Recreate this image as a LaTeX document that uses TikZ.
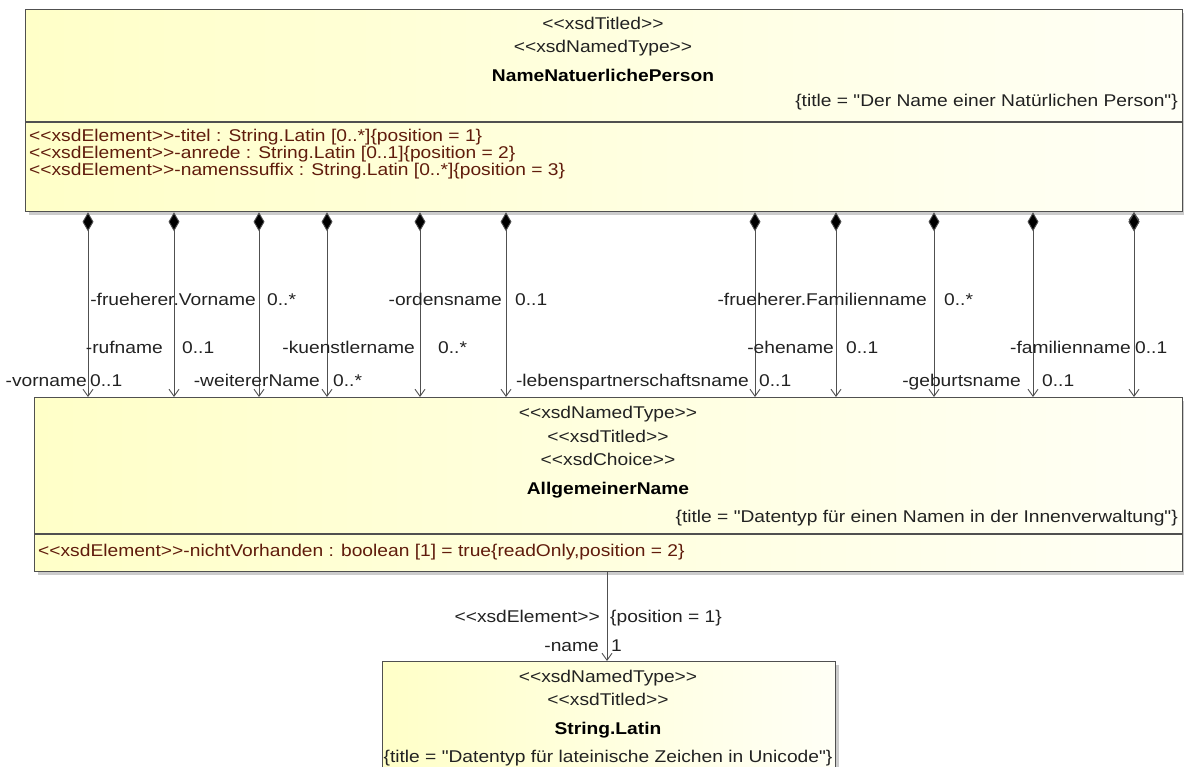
\documentclass[tikz,border=0pt]{standalone}
\usepackage{fontspec}
\newfontfamily\umlfont{Liberation Sans}[FakeStretch=1.13]
\usetikzlibrary{arrows.meta, positioning, shadows}

\definecolor{umlfill}{RGB}{255,255,200}
\definecolor{umlfillr}{RGB}{255,255,246}
\definecolor{umldraw}{RGB}{80,80,80}
\definecolor{umlattr}{RGB}{96,28,12}
\definecolor{umltext}{RGB}{34,34,34}

\newcommand{\stereo}[1]{\textless\textless#1\textgreater\textgreater}

\begin{document}
\begin{tikzpicture} [x=1pt, y=-1pt,
            font=\umlfont\fontsize{17}{17}\selectfont,
            every node/.style={inner sep=0pt, text=umltext},
            classbox/.style={draw=umldraw, line width=1.3pt,
                left color=umlfill, right color=umlfillr,
                drop shadow={shadow xshift=3pt, shadow yshift=-3pt, opacity=.4}},
            divider/.style={draw=umldraw, line width=1.3pt},
            classname/.style={anchor=base, font=\umlfont\bfseries\fontsize{17}{17}\selectfont, text=black},
            stline/.style={anchor=base},
            attr/.style={anchor=base west, text=umlattr},
            role/.style={anchor=base east},
            mult/.style={anchor=base west},
            assoc/.style={draw=umldraw, line width=0.9pt,
                {Diamond[length=19pt, width=11pt]}-{Straight Barb[length=7pt, width=10pt]}},
            elem/.style={draw=umldraw, line width=0.9pt,
                -{Straight Barb[length=7pt, width=10pt]}}]

        \useasboundingbox (0,0) rectangle (1184,767);

        % Class NameNatuerlichePerson
        \node (nnp) [classbox, anchor=north west,
            minimum width=1157pt, minimum height=202pt] at (25,9) {};
        \draw [divider] ([yshift=-113pt]nnp.north west) -- ([yshift=-113pt]nnp.north east);
        \node (nnpTitled) [stline] at (603,29.5) {\stereo{xsdTitled}};
        \node (nnpNamed) [stline] at (603,52.5) {\stereo{xsdNamedType}};
        \node (nnpName) [classname] at (603,82) {NameNatuerlichePerson};
        \node (nnpTitle) [anchor=base east] at (1178,106.5) {\{title = "Der Name einer Natürlichen Person"\}};
        \node (nnpAttr1) [attr] at (29,141.5) {\stereo{xsdElement}-titel : String.Latin [0..*]\{position = 1\}};
        \node (nnpAttr2) [attr] at (29,158.5) {\stereo{xsdElement}-anrede : String.Latin [0..1]\{position = 2\}};
        \node (nnpAttr3) [attr] at (29,175.5) {\stereo{xsdElement}-namenssuffix : String.Latin [0..*]\{position = 3\}};

        % Class AllgemeinerName
        \node (an) [classbox, anchor=north west,
            minimum width=1148pt, minimum height=174pt] at (34,397) {};
        \draw [divider] ([yshift=-137pt]an.north west) -- ([yshift=-137pt]an.north east);
        \node (anNamed) [stline] at (608,418.5) {\stereo{xsdNamedType}};
        \node (anTitled) [stline] at (608,442.5) {\stereo{xsdTitled}};
        \node (anChoice) [stline] at (608,465.5) {\stereo{xsdChoice}};
        \node (anName) [classname] at (608,494) {AllgemeinerName};
        \node (anTitle) [anchor=base east] at (1178,522.5) {\{title = "Datentyp für einen Namen in der Innenverwaltung"\}};
        \node (anAttr) [attr] at (38,556.5) {\stereo{xsdElement}-nichtVorhanden : boolean [1] = true\{readOnly,position = 2\}};

        % Class String.Latin
        \node (sl) [classbox, anchor=north west,
            minimum width=453pt, minimum height=140pt] at (382,661) {};
        \node (slNamed) [stline] at (608,682.5) {\stereo{xsdNamedType}};
        \node (slTitled) [stline] at (608,705.5) {\stereo{xsdTitled}};
        \node (slName) [classname] at (608,734) {String.Latin};
        \node (slTitle) [stline] at (608,762.5) {\{title = "Datentyp für lateinische Zeichen in Unicode"\}};

        % Connector columns
        \coordinate (xVorname) at (88,0);
        \coordinate (xRufname) at (174,0);
        \coordinate (xFrVorname) at (259,0);
        \coordinate (xWeiterer) at (327,0);
        \coordinate (xKuenstler) at (420,0);
        \coordinate (xOrden) at (506,0);
        \coordinate (xLebens) at (755,0);
        \coordinate (xEhe) at (836,0);
        \coordinate (xFrFamilie) at (934,0);
        \coordinate (xGeburt) at (1033,0);
        \coordinate (xFamilie) at (1134,0);
        \coordinate (xName) at (607,0);

        % Compositions
        \path [assoc]
            (xVorname |- nnp.south)   edge (xVorname |- an.north)
            (xRufname |- nnp.south)   edge (xRufname |- an.north)
            (xFrVorname |- nnp.south) edge (xFrVorname |- an.north)
            (xWeiterer |- nnp.south)  edge (xWeiterer |- an.north)
            (xKuenstler |- nnp.south) edge (xKuenstler |- an.north)
            (xOrden |- nnp.south)     edge (xOrden |- an.north)
            (xLebens |- nnp.south)    edge (xLebens |- an.north)
            (xEhe |- nnp.south)       edge (xEhe |- an.north)
            (xFrFamilie |- nnp.south) edge (xFrFamilie |- an.north)
            (xGeburt |- nnp.south)    edge (xGeburt |- an.north)
            (xFamilie |- nnp.south)   edge (xFamilie |- an.north);

        % Role names and multiplicities
        \node (vornameRole) [role] at (87,387) {-vorname};
        \node (vornameMult) [mult] at (90,387) {0..1};
        \node (rufnameRole) [role] at (163,354) {-rufname};
        \node (rufnameMult) [mult] at (182,354) {0..1};
        \node (frVornameRole) [role] at (256,306) {-frueherer.Vorname};
        \node (frVornameMult) [mult] at (267,306) {0..*};
        \node (weitererRole) [role] at (320,387) {-weitererName};
        \node (weitererMult) [mult] at (333,387) {0..*};
        \node (kuenstlerRole) [role] at (415,354) {-kuenstlername};
        \node (kuenstlerMult) [mult] at (438,354) {0..*};
        \node (ordenRole) [role] at (502,306) {-ordensname};
        \node (ordenMult) [mult] at (515,306) {0..1};
        \node (lebensRole) [role] at (749,387) {-lebenspartnerschaftsname};
        \node (lebensMult) [mult] at (759,387) {0..1};
        \node (eheRole) [role] at (834,354) {-ehename};
        \node (eheMult) [mult] at (846,354) {0..1};
        \node (frFamilieRole) [role] at (927,306) {-frueherer.Familienname};
        \node (frFamilieMult) [mult] at (944,306) {0..*};
        \node (geburtRole) [role] at (1021,387) {-geburtsname};
        \node (geburtMult) [mult] at (1042,387) {0..1};
        \node (familieRole) [role] at (1131,354) {-familienname};
        \node (familieMult) [mult] at (1135,354) {0..1};

        % Element name
        \draw [elem] (xName |- an.south) -- (xName |- sl.north);
        \node (nameStereo) [role] at (600,622.5) {\stereo{xsdElement}};
        \node (namePos) [mult] at (610,622.5) {\{position = 1\}};
        \node (nameRole) [role] at (599,651.5) {-name};
        \node (nameMult) [mult] at (611,651.5) {1};
\end{tikzpicture}
\end{document}
